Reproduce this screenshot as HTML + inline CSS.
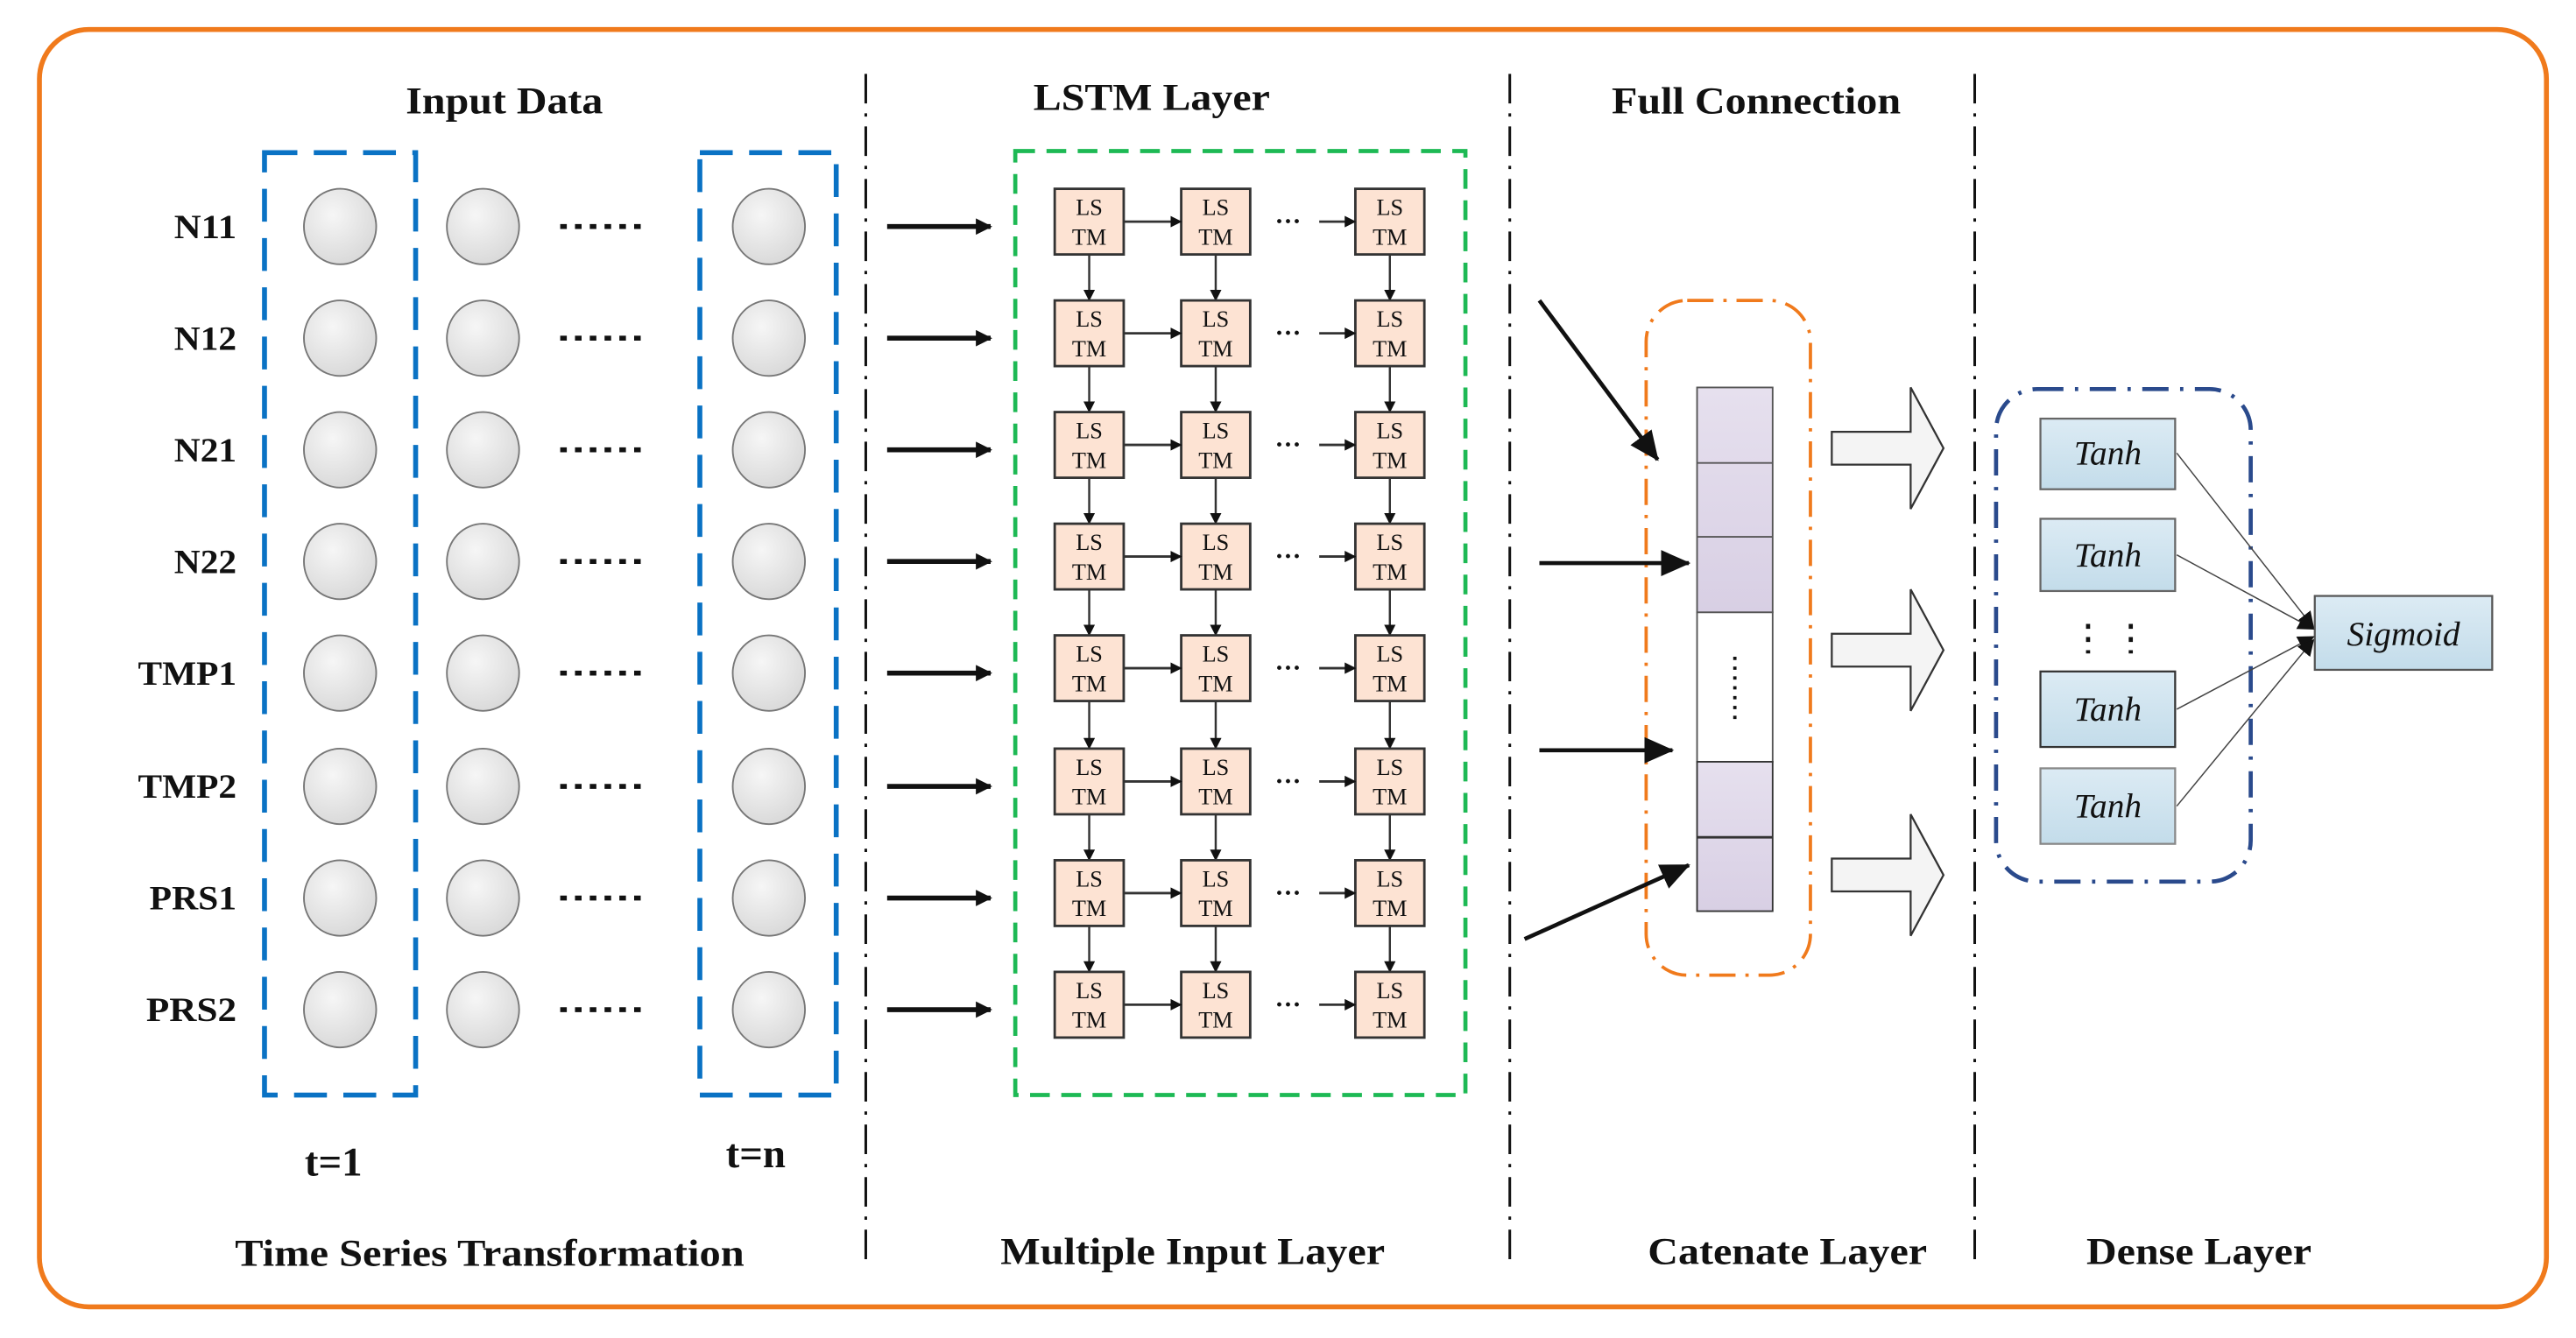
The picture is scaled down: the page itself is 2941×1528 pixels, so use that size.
<!DOCTYPE html>
<html><head><meta charset="utf-8"><style>
html,body{margin:0;padding:0;background:#fff;}
svg{display:block;}
text{font-family:"Liberation Serif",serif;}
</style></head><body>
<svg id="s" width="2941" height="1528" viewBox="0 0 1568 815" preserveAspectRatio="none" xmlns="http://www.w3.org/2000/svg">
<defs>
<radialGradient id="cg" cx="40%" cy="35%" r="70%"><stop offset="0" stop-color="#f6f6f6"/><stop offset="1" stop-color="#d8d8d8"/></radialGradient>
<linearGradient id="tg" x1="0" y1="0" x2="0" y2="1"><stop offset="0" stop-color="#dcebf4"/><stop offset="1" stop-color="#c3dcea"/></linearGradient>
<linearGradient id="pg" x1="0" y1="0" x2="0" y2="1"><stop offset="0" stop-color="#e6e0ee"/><stop offset="1" stop-color="#d8cfe4"/></linearGradient>
<marker id="ah" markerWidth="10" markerHeight="10" refX="9" refY="5" orient="auto" markerUnits="userSpaceOnUse"><path d="M0,0 L10,5 L0,10 Z" fill="#111"/></marker>
<marker id="ah2" markerWidth="7" markerHeight="7" refX="6.5" refY="3.5" orient="auto" markerUnits="userSpaceOnUse"><path d="M0,0 L7,3.5 L0,7 Z" fill="#111"/></marker>
<marker id="ab" markerWidth="18" markerHeight="16" refX="17" refY="8" orient="auto" markerUnits="userSpaceOnUse"><path d="M0,0 L18,8 L0,16 Z" fill="#111"/></marker>
</defs>
<rect x="24" y="18" width="1526" height="778" rx="30" fill="none" stroke="#f07a1c" stroke-width="3"/>
<g stroke="#111" stroke-width="1.6" stroke-dasharray="18,6,2,6">
<line x1="527" y1="45" x2="527" y2="770"/><line x1="919" y1="45" x2="919" y2="770"/><line x1="1202" y1="45" x2="1202" y2="770"/>
</g>
<g font-weight="bold" font-size="23" fill="#111" lengthAdjust="spacingAndGlyphs">
<text x="247" y="69" textLength="120" lengthAdjust="spacingAndGlyphs">Input Data</text>
<text x="629" y="67" textLength="144" lengthAdjust="spacingAndGlyphs">LSTM Layer</text>
<text x="981" y="69" textLength="176" lengthAdjust="spacingAndGlyphs">Full Connection</text>
<text x="143" y="771" textLength="310" lengthAdjust="spacingAndGlyphs">Time Series Transformation</text>
<text x="609" y="770" textLength="234" lengthAdjust="spacingAndGlyphs">Multiple Input Layer</text>
<text x="1003" y="770" textLength="170" lengthAdjust="spacingAndGlyphs">Catenate Layer</text>
<text x="1270" y="770" textLength="137" lengthAdjust="spacingAndGlyphs">Dense Layer</text>
<text x="203" y="716" font-size="25" text-anchor="middle">t=1</text><text x="460" y="711" font-size="25" text-anchor="middle">t=n</text>
</g>
<rect x="161" y="93" width="92" height="574" fill="none" stroke="#0a72c4" stroke-width="3" stroke-dasharray="20,10"/>
<rect x="426" y="93" width="83" height="574" fill="none" stroke="#0a72c4" stroke-width="3" stroke-dasharray="20,10"/>
<rect x="618" y="92" width="274" height="575" fill="none" stroke="#1db954" stroke-width="2.5" stroke-dasharray="12,7"/>
<rect x="1002" y="183" width="100" height="411" rx="25" fill="none" stroke="#f07a1c" stroke-width="2" stroke-dasharray="16,6,2,6"/>
<rect x="1215" y="237" width="155" height="300" rx="25" fill="none" stroke="#2a4a8c" stroke-width="2.5" stroke-dasharray="16,7,2,7"/>
<g id="grid"></g>
<rect x="1033" y="236" width="46" height="137" fill="url(#pg)" stroke="#555" stroke-width="1"/>
<line x1="1033" y1="282" x2="1079" y2="282" stroke="#555"/><line x1="1033" y1="327" x2="1079" y2="327" stroke="#555"/>
<rect x="1033" y="373" width="46" height="91" fill="#fff" stroke="#555" stroke-width="1"/>
<line x1="1056" y1="400" x2="1056" y2="438" stroke="#111" stroke-width="2" stroke-dasharray="2,4"/>
<rect x="1033" y="464" width="46" height="91" fill="url(#pg)" stroke="#333" stroke-width="1"/>
<line x1="1033" y1="510" x2="1079" y2="510" stroke="#333" stroke-width="1.5"/>
<g stroke="#111" stroke-width="2.5" fill="none">
<line x1="937" y1="183" x2="1009" y2="280" marker-end="url(#ab)"/>
<line x1="937" y1="343" x2="1028" y2="343" marker-end="url(#ab)"/>
<line x1="937" y1="457" x2="1018" y2="457" marker-end="url(#ab)"/>
<line x1="928" y1="572" x2="1028" y2="527" marker-end="url(#ab)"/>
</g>
<g fill="#f4f4f4" stroke="#333" stroke-width="1.2">
<path d="M1115,263 H1163 V236 L1183,273 L1163,310 V283 H1115 Z"/>
<path d="M1115,386 H1163 V359 L1183,396 L1163,433 V406 H1115 Z"/>
<path d="M1115,523 H1163 V496 L1183,533 L1163,570 V543 H1115 Z"/>
</g>
<g font-style="italic" font-size="21" text-anchor="middle" fill="#111">
<rect x="1242" y="255" width="82" height="43" fill="url(#tg)" stroke="#666" stroke-width="1.2"/><text x="1283" y="283">Tanh</text>
<rect x="1242" y="316" width="82" height="44" fill="url(#tg)" stroke="#666" stroke-width="1.2"/><text x="1283" y="345">Tanh</text>
<rect x="1242" y="409" width="82" height="46" fill="url(#tg)" stroke="#333" stroke-width="1.2"/><text x="1283" y="439">Tanh</text>
<rect x="1242" y="468" width="82" height="46" fill="url(#tg)" stroke="#888" stroke-width="1.2"/><text x="1283" y="498">Tanh</text>
<rect x="1409" y="363" width="108" height="45" fill="url(#tg)" stroke="#555" stroke-width="1.2"/><text x="1463" y="393">Sigmoid</text>
</g>
<g stroke="#111" stroke-width="2.5" stroke-dasharray="3,5"><line x1="1271" y1="380" x2="1271" y2="398"/><line x1="1297" y1="380" x2="1297" y2="398"/></g>
<g stroke="#444" stroke-width="0.8" fill="none">
<line x1="1325" y1="276" x2="1408" y2="382" marker-end="url(#ah)"/>
<line x1="1325" y1="338" x2="1408" y2="383" marker-end="url(#ah)"/>
<line x1="1325" y1="432" x2="1408" y2="388" marker-end="url(#ah)"/>
<line x1="1325" y1="491" x2="1408" y2="390" marker-end="url(#ah)"/>
</g>
</svg>
<script>
var g=document.getElementById('grid'),h='';
var rows=[138,206,274,342,410,479,547,615],labs=['N11','N12','N21','N22','TMP1','TMP2','PRS1','PRS2'],lw=[38,38,38,38,60,60,53,55];
var bx=[642,719,825];
rows.forEach(function(y,i){
 h+='<text x="'+(144-lw[i])+'" y="'+(y+7)+'" textLength="'+lw[i]+'" lengthAdjust="spacingAndGlyphs" font-weight="bold" font-size="21" fill="#111">'+labs[i]+'</text>';
 [207,294,468].forEach(function(cx){h+='<ellipse cx="'+cx+'" cy="'+y+'" rx="22" ry="23" fill="url(#cg)" stroke="#777" stroke-width="1"/>';});
 h+='<line x1="341" y1="'+y+'" x2="395" y2="'+y+'" stroke="#111" stroke-width="3" stroke-dasharray="4,5"/>';
 h+='<line x1="540" y1="'+y+'" x2="603" y2="'+y+'" stroke="#111" stroke-width="3" marker-end="url(#ah)"/>';
 var t=y-23;
 bx.forEach(function(x){h+='<rect x="'+x+'" y="'+t+'" width="42" height="40" fill="#fde3d3" stroke="#333" stroke-width="1.5"/><text x="'+(x+21)+'" y="'+(t+16)+'" text-anchor="middle" font-size="14" fill="#111">LS</text><text x="'+(x+21)+'" y="'+(t+34)+'" text-anchor="middle" font-size="14" fill="#111">TM</text>';});
 h+='<line x1="684" y1="'+(y-3)+'" x2="719" y2="'+(y-3)+'" stroke="#333" stroke-width="1.5" marker-end="url(#ah2)"/>';
 h+='<text x="784" y="'+(y+2)+'" text-anchor="middle" font-size="16" font-weight="bold" fill="#111">···</text>';
 h+='<line x1="803" y1="'+(y-3)+'" x2="825" y2="'+(y-3)+'" stroke="#333" stroke-width="1.5" marker-end="url(#ah2)"/>';
 if(i<7){var ny=rows[i+1]-23;bx.forEach(function(x){h+='<line x1="'+(x+21)+'" y1="'+(t+40)+'" x2="'+(x+21)+'" y2="'+ny+'" stroke="#333" stroke-width="1.3" marker-end="url(#ah2)"/>';});}
});
g.innerHTML=h;
</script>
</body></html>
